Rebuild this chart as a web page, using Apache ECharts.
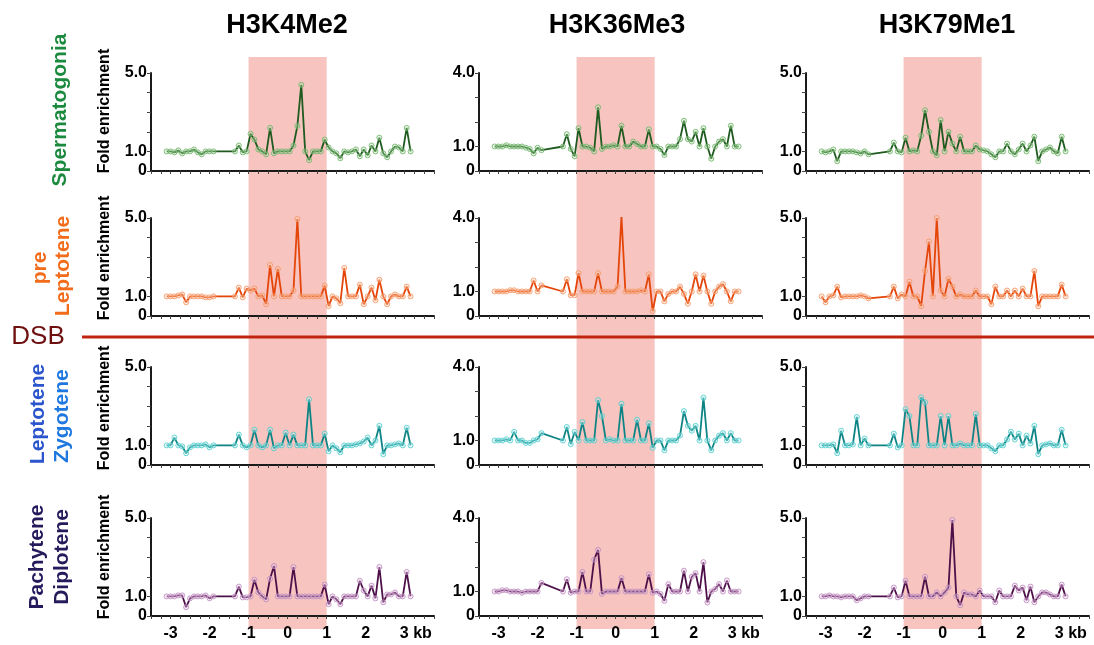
<!DOCTYPE html>
<html>
<head>
<meta charset="utf-8">
<script src="https://cdn.jsdelivr.net/npm/echarts@6/dist/echarts.min.js"></script>
<style>
	html, body { margin: 0; padding: 0; background: #ffffff; }
	#chart { width: 1094px; height: 645px; }
</style>
</head>
<body>
<div id="chart"></div>
<script>
	// probe positions (kb from the DSB hotspot centre)
	var xKb = [-3.1, -3.0, -2.9, -2.8, -2.7, -2.6, -2.5, -2.4, -2.3, -2.2, -2.1, -2.0, -1.9,
		-1.35, -1.25, -1.15, -1.05,
		-0.95, -0.85, -0.75, -0.65, -0.55, -0.45, -0.35, -0.25, -0.15, -0.05,
		0.05, 0.15, 0.25, 0.35, 0.45, 0.55, 0.65, 0.75, 0.85, 0.95,
		1.05, 1.15, 1.25, 1.35, 1.45, 1.55, 1.65, 1.75, 1.85, 1.95,
		2.05, 2.15, 2.25, 2.35, 2.45, 2.55, 2.65, 2.75, 2.85, 2.95,
		3.05, 3.15];

	var marks = ['H3K4Me2', 'H3K36Me3', 'H3K79Me1'];
	var yMax = [5, 4, 5];
	var xTicks = [-3, -2, -1, 0, 1, 2, 3];
	var hotspot = [-1, 1];

	// fold enrichment, Spermatogonia
	var sperm_K4 = [1.0, 1.0, 0.95, 1.05, 0.9, 1.0, 1.0, 1.1, 0.95, 0.85, 1.0, 1.0, 1.0,
		1.0, 1.3, 0.95, 1.0,
		1.9, 1.6, 1.1, 1.0, 0.85, 2.2, 0.9, 1.0, 1.0, 1.0,
		1.0, 1.3, 2.3, 4.4, 1.0, 0.55, 1.0, 1.0, 1.0, 1.6,
		1.2, 1.0, 0.9, 0.65, 1.0, 0.95, 1.0, 1.1, 0.75, 1.1,
		0.8, 1.3, 1.0, 1.7, 0.9, 0.7, 1.0, 1.25, 1.2, 1.0,
		2.2, 1.0];
	var sperm_K36 = [1.0, 1.0, 1.0, 1.05, 1.0, 1.0, 1.0, 1.0, 0.95, 0.9, 0.72, 0.95, 0.85,
		1.0, 1.5, 0.9, 0.6,
		1.75, 1.0, 1.0, 0.95, 0.8, 2.6, 0.9, 1.0, 1.0, 1.05,
		1.0, 1.85, 1.0, 1.0, 1.2, 1.1, 1.0, 1.0, 1.7, 1.0,
		1.0, 0.9, 0.65, 1.0, 1.0, 1.0, 1.3, 2.05, 1.3, 1.2,
		1.6, 1.0, 1.75, 1.0, 0.5, 1.0, 1.2, 1.3, 1.0, 1.85,
		1.0, 1.0];
	var sperm_K79 = [1.0, 0.95, 1.0, 1.1, 0.5, 1.0, 1.0, 1.0, 1.0, 0.95, 0.9, 1.0, 0.85,
		1.0, 1.45, 1.0, 0.95,
		1.7, 1.0, 1.05, 1.0, 1.8, 3.1, 2.0, 1.0, 0.8, 2.6,
		1.0, 2.0, 1.4, 1.0, 1.75, 1.0, 1.0, 1.0, 1.3, 1.1,
		1.05, 1.0, 0.85, 0.7, 1.0, 1.0, 1.4, 1.0, 0.85, 1.1,
		1.4, 1.0, 1.3, 1.75, 0.5, 1.0, 1.1, 1.2, 1.0, 0.9,
		1.75, 1.0];

	// pre Leptotene
	var prelep_K4 = [1.0, 1.0, 1.0, 1.05, 1.1, 0.7, 1.0, 1.0, 1.0, 1.0, 0.95, 0.95, 1.0,
		1.0, 1.45, 0.95, 1.4,
		1.3, 1.4, 1.0, 1.05, 0.6, 2.6, 1.0, 2.4, 1.0, 1.0,
		1.0, 1.3, 4.95, 1.0, 1.0, 1.0, 1.0, 1.0, 1.0, 1.55,
		0.5, 1.0, 0.9, 0.65, 2.45, 1.0, 1.0, 1.0, 1.6, 0.6,
		1.0, 1.45, 0.8, 1.85, 1.0, 0.6, 1.0, 1.1, 1.0, 1.0,
		1.5, 1.0];
	var prelep_K36 = [1.0, 1.0, 1.0, 1.0, 1.05, 1.05, 1.0, 1.0, 1.0, 1.0, 1.45, 1.0, 1.25,
		1.0, 1.5, 0.85, 0.85,
		1.75, 1.0, 1.0, 1.0, 1.0, 1.75, 1.0, 1.0, 1.0, 1.0,
		1.2, 4.05, 1.0, 1.0, 1.0, 1.0, 1.05, 1.0, 1.7, 0.2,
		1.0, 1.0, 0.6, 0.9, 1.0, 1.0, 1.2, 0.9, 0.5, 1.0,
		1.7, 1.0, 1.65, 1.0, 0.5, 1.0, 1.2, 1.3, 1.0, 0.6,
		1.0, 1.0];
	var prelep_K79 = [1.0, 0.7, 1.0, 1.05, 1.5, 0.95, 1.0, 1.0, 1.0, 1.0, 1.05, 1.0, 0.9,
		1.0, 1.5, 0.9, 1.1,
		1.0, 1.75, 1.0, 1.0, 0.5, 2.3, 3.8, 1.0, 5.0, 1.3,
		1.0, 1.9, 1.5, 1.0, 1.1, 1.0, 1.0, 1.0, 1.3, 1.0,
		1.0, 1.0, 0.6, 1.5, 1.0, 1.0, 1.3, 1.0, 1.3, 1.0,
		1.4, 1.0, 1.0, 2.3, 0.5, 1.0, 1.0, 1.0, 1.0, 1.0,
		1.6, 1.0];

	// Leptotene / Zygotene
	var lepzyg_K4 = [1.0, 1.0, 1.4, 1.0, 0.95, 0.6, 0.9, 1.0, 1.0, 1.0, 1.05, 0.9, 1.0,
		1.0, 1.55, 1.0, 0.9,
		1.0, 1.8, 1.0, 0.9, 1.0, 1.8, 0.85, 1.0, 1.0, 1.65,
		1.0, 1.55, 1.0, 1.0, 1.0, 3.35, 1.0, 1.0, 1.0, 1.6,
		0.7, 1.0, 0.85, 0.65, 1.0, 1.0, 1.0, 1.05, 1.1, 1.2,
		1.4, 1.0, 1.25, 2.0, 0.55, 1.0, 1.0, 1.05, 1.1, 1.0,
		1.9, 1.0];
	var lepzyg_K36 = [1.0, 1.0, 1.0, 1.05, 1.0, 1.35, 1.0, 1.0, 0.9, 0.9, 1.0, 1.05, 1.3,
		1.0, 1.55, 0.85, 1.35,
		1.0, 1.75, 1.0, 1.0, 1.0, 2.65, 2.0, 1.0, 1.05, 1.0,
		1.0, 2.5, 1.0, 1.0, 1.0, 1.85, 1.0, 1.0, 1.7, 0.7,
		1.0, 1.0, 0.6, 1.0, 1.0, 1.0, 1.2, 2.2, 1.6, 1.4,
		1.6, 1.0, 2.75, 1.0, 0.6, 1.0, 1.2, 1.3, 1.0, 1.3,
		1.0, 1.0];
	var lepzyg_K79 = [1.0, 1.0, 1.0, 1.05, 0.6, 1.75, 1.0, 1.0, 1.05, 2.45, 1.0, 1.35, 1.0,
		1.0, 1.6, 0.9, 1.0,
		2.85, 2.5, 1.0, 1.0, 3.45, 3.2, 1.0, 1.0, 1.0, 2.5,
		1.0, 2.5, 1.0, 1.0, 1.1, 1.0, 1.0, 1.0, 2.6, 1.0,
		1.0, 1.0, 0.85, 0.7, 1.0, 1.0, 1.3, 1.7, 1.3, 1.6,
		1.0, 1.5, 1.1, 2.0, 0.55, 1.0, 1.05, 1.1, 1.0, 1.0,
		1.8, 1.0];

	// Pachytene / Diplotene
	var pachy_K4 = [1.0, 1.0, 1.0, 1.05, 1.05, 0.45, 0.9, 1.0, 1.0, 1.0, 1.05, 0.9, 1.0,
		1.0, 1.5, 0.95, 0.95,
		1.0, 1.85, 1.2, 1.0, 0.85, 1.9, 2.55, 1.0, 1.0, 1.0,
		1.0, 2.5, 1.0, 1.0, 1.0, 1.0, 1.0, 1.0, 1.0, 1.6,
		0.6, 1.0, 0.85, 0.6, 1.0, 1.0, 1.0, 1.0, 1.8, 1.3,
		1.0, 1.55, 0.9, 2.5, 0.7, 1.1, 1.1, 1.2, 1.0, 1.0,
		2.25, 1.0];
	var pachy_K36 = [1.0, 1.0, 1.05, 1.05, 1.0, 1.0, 1.0, 0.95, 1.0, 1.0, 1.0, 1.0, 1.35,
		1.0, 1.5, 0.95, 1.0,
		1.0, 1.8, 1.0, 1.0, 2.3, 2.7, 0.9, 1.0, 1.0, 1.0,
		1.0, 1.55, 1.0, 1.0, 1.0, 1.0, 1.0, 1.0, 1.7, 0.95,
		1.0, 0.9, 0.62, 1.3, 1.0, 1.0, 1.0, 1.85, 1.0, 1.6,
		1.75, 1.0, 2.2, 0.55, 1.0, 1.1, 1.3, 1.0, 1.45, 1.0,
		1.0, 1.0];
	var pachy_K79 = [1.0, 1.0, 1.05, 1.0, 1.0, 0.95, 1.0, 1.0, 1.0, 0.8, 0.9, 1.0, 1.0,
		1.0, 1.45, 0.95, 1.0,
		1.8, 1.0, 1.0, 1.0, 1.0, 2.0, 1.0, 1.0, 1.2, 1.0,
		1.2, 1.45, 4.9, 1.0, 0.55, 1.2, 1.1, 1.1, 1.0, 1.3,
		1.0, 1.0, 1.0, 0.7, 1.3, 1.0, 1.0, 1.0, 1.55, 1.3,
		1.45, 0.8, 1.5, 0.7, 1.0, 1.2, 1.2, 1.1, 1.0, 1.0,
		1.6, 1.0];

	var rows = [
		[sperm_K4, sperm_K36, sperm_K79],
		[prelep_K4, prelep_K36, prelep_K79],
		[lepzyg_K4, lepzyg_K36, lepzyg_K79],
		[pachy_K4, pachy_K36, pachy_K79]
	];
	var rowStyle = [
		{ line: '#1f5a1f', fill: 'rgba(190,232,180,0.35)', border: 'rgba(110,180,105,0.85)' },
		{ line: '#e4460a', fill: 'rgba(255,210,180,0.35)', border: 'rgba(245,150,100,0.85)' },
		{ line: '#0f8485', fill: 'rgba(190,245,245,0.35)', border: 'rgba(80,205,205,0.85)' },
		{ line: '#4d1049', fill: 'rgba(240,205,240,0.35)', border: 'rgba(190,140,190,0.85)' }
	];

	var FONT = '"Liberation Sans", Arial, sans-serif';
	var colLeft = [151, 479, 806];
	var plotW = 283;
	var rowTop = [73, 218, 367, 518];
	var plotH = 98;
	var X_MIN = -3.5, X_MAX = 3.75;

	var grids = [], xAxes = [], yAxes = [], series = [];

	rows.forEach(function (cols, r) {
		cols.forEach(function (vals, c) {
			var idx = grids.length;
			grids.push({ left: colLeft[c], top: rowTop[r], width: plotW, height: plotH });
			xAxes.push({
				type: 'value', gridIndex: idx, min: X_MIN, max: X_MAX, interval: 0.25, z: 5,
				axisLine: { onZero: false, lineStyle: { color: '#1a1a1a', width: 2 } },
				axisTick: { show: true, length: 3, lineStyle: { color: '#444', width: 1 } },
				splitLine: { show: false },
				axisLabel: {
					show: r === 3, margin: 10, color: '#000', fontWeight: 'bold', fontSize: 16, fontFamily: FONT,
					formatter: function (v) {
						if (xTicks.indexOf(v) < 0) return '';
						return v === 3 ? '     3 kb' : String(v);
					}
				}
			});
			yAxes.push({
				type: 'value', gridIndex: idx, min: 0, max: yMax[c], interval: 1, z: 5,
				axisLine: { show: true, onZero: false, lineStyle: { color: '#1a1a1a', width: 2 } },
				axisTick: { show: true, length: 4, lineStyle: { color: '#444', width: 1 } },
				splitLine: { show: false },
				axisLabel: {
					margin: 4, color: '#000', fontWeight: 'bold', fontSize: 16, fontFamily: FONT,
					formatter: function (v) {
						if (v === 0) return '0';
						if (v === 1 || v === yMax[c]) return v.toFixed(1);
						return '';
					}
				}
			});
			series.push({
				type: 'line', xAxisIndex: idx, yAxisIndex: idx, z: 3,
				data: xKb.map(function (x, i) { return [x, vals[i]]; }),
				symbol: 'circle', symbolSize: 5, showAllSymbol: true,
				lineStyle: { color: rowStyle[r].line, width: 1.8 },
				itemStyle: { color: rowStyle[r].fill, borderColor: rowStyle[r].border, borderWidth: 1 }
			});
		});
	});

	// pink hotspot band, one tall grid per column
	for (var c = 0; c < 3; c++) {
		var idx = grids.length;
		grids.push({ left: colLeft[c], top: 57, width: plotW, height: 572 });
		xAxes.push({ type: 'value', gridIndex: idx, min: X_MIN, max: X_MAX, show: false });
		yAxes.push({ type: 'value', gridIndex: idx, min: 0, max: 1, show: false });
		series.push({
			type: 'line', xAxisIndex: idx, yAxisIndex: idx, z: 1, data: [],
			markArea: {
				silent: true,
				itemStyle: { color: '#f7c4c0' },
				data: [[{ xAxis: hotspot[0] }, { xAxis: hotspot[1] }]]
			}
		});
	}

	function txt(text, x, y, size, color, weight, rot) {
		return {
			type: 'text', x: x, y: y, rotation: rot || 0, z: 20,
			style: {
				text: text, fill: color, align: 'center', verticalAlign: 'middle',
				font: (weight || 'bold') + ' ' + size + 'px ' + FONT
			}
		};
	}
	var V = Math.PI / 2;
	var graphics = [
		txt(marks[0], 287, 26, 27, '#000'),
		txt(marks[1], 617, 26, 27, '#000'),
		txt(marks[2], 947, 26, 27, '#000'),
		txt('Spermatogonia', 60, 110, 21, '#1b8a3e', 'bold', V),
		txt('pre', 40, 268, 21, '#f26c1c', 'bold', V),
		txt('Leptotene', 63, 266, 21, '#f26c1c', 'bold', V),
		txt('Leptotene', 38, 414, 21, '#2b55cc', 'bold', V),
		txt('Zygotene', 62, 416, 21, '#1f78e0', 'bold', V),
		txt('Pachytene', 37, 557, 21, '#251b5c', 'bold', V),
		txt('Diplotene', 62, 557, 21, '#251b5c', 'bold', V),
		txt('Fold enrichment', 105, 111, 16, '#000', 'bold', V),
		txt('Fold enrichment', 105, 258, 16, '#000', 'bold', V),
		txt('Fold enrichment', 105, 408, 16, '#000', 'bold', V),
		txt('Fold enrichment', 105, 557, 16, '#000', 'bold', V),
		txt('DSB', 38, 337, 26, '#6e1010', 'normal'),
		{
			type: 'line', z: 15,
			shape: { x1: 82, y1: 337, x2: 1094, y2: 337 },
			style: { stroke: '#c0260f', lineWidth: 3 }
		}
	];

	var chart = echarts.init(document.getElementById('chart'));
	chart.setOption({
		animation: false,
		backgroundColor: '#ffffff',
		grid: grids,
		xAxis: xAxes,
		yAxis: yAxes,
		series: series,
		graphic: graphics
	});
</script>
</body>
</html>
